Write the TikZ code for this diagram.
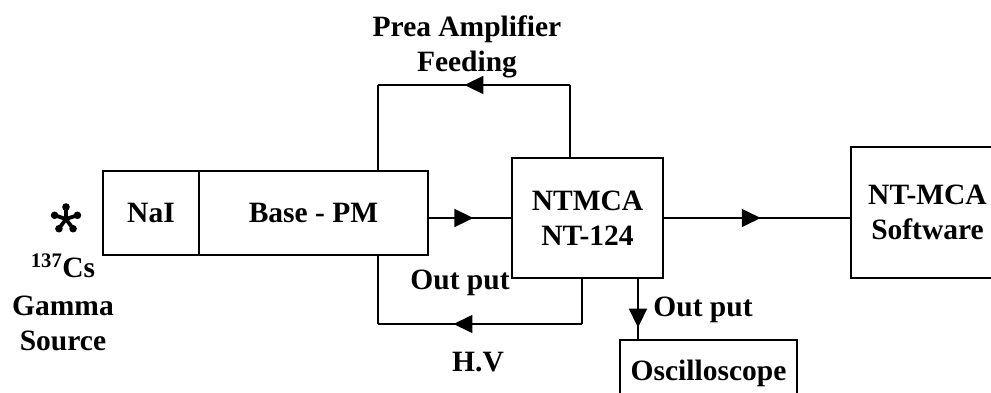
\documentclass[tikz,border=0pt]{standalone}
\usepackage{fontspec}
\setmainfont{Liberation Serif}
\usetikzlibrary{arrows.meta,decorations.markings,calc}
\begin{document}
\begin{tikzpicture}[x=1pt,y=-1pt,
  every node/.style={font=\bfseries\fontsize{29.5}{35}\selectfont},
  blk/.style={draw,line width=1.6pt,inner sep=0pt,outer sep=0pt,align=center},
  lbl/.style={inner sep=0pt,anchor=base},
  wire/.style={line width=1.6pt},
  midarrow/.style={postaction={decorate},decoration={markings,
     mark=at position #1 with {\arrow{Triangle[length=19pt,width=18pt]}}}}]
\useasboundingbox (0,0) rectangle (991,392);
\clip (0,0) rectangle (991,392);
\fill[white] (0,0) rectangle (991,392);
% boxes
\node[blk,minimum width=96,minimum height=84] (nai) at (151,213) {NaI};
\node[blk,minimum width=229,minimum height=84,anchor=west] (base) at (nai.east) {Base - PM};
\node[blk,minimum width=151,minimum height=120] (ntmca) at (587.5,218) {NTMCA\\NT-124};
\node[blk,minimum width=153,minimum height=131] (soft) at (927.5,212.5) {NT-MCA\\Software};
\node[blk,minimum width=177,minimum height=66] (osc) at (708.5,373) {Oscilloscope};
% coordinates for loops
\coordinate (fbL) at (378,85);
\coordinate (fbR) at (570,85);
\coordinate (hvL) at (378,324);
\coordinate (hvR) at (582,324);
\coordinate (outx) at (638,0);
\coordinate (sig) at (0,218);
% feedback loop (top)
\draw[wire] (fbL |- base.north) -- (fbL);
\draw[wire,midarrow=0.55] (fbR) -- (fbL);
\draw[wire] (fbR |- ntmca.north) -- (fbR);
% H.V loop (bottom)
\draw[wire] (hvL |- base.south) -- (hvL);
\draw[wire,midarrow=0.63] (hvR) -- (hvL);
\draw[wire] (hvR |- ntmca.south) -- (hvR);
% signal arrows
\draw[wire,midarrow=0.54] (base.east |- sig) -- (ntmca.west |- sig);
\draw[wire,midarrow=0.52] (ntmca.east |- sig) -- (soft.west |- sig);
\draw[wire,midarrow=0.80] (outx |- ntmca.south) -- (outx |- osc.north);
% labels
\node[lbl] (prea) at (467,36) {Prea Amplifier};
\node[lbl] (feed) at (467,71) {Feeding};
\node[lbl] (out1) at (460,289) {Out put};
\node[lbl] (hv) at (478,371) {H.V};
\node[lbl] (out2) at (703,316) {Out put};
% source
\node[lbl] (cs) at (63,277) {\textsuperscript{137}Cs};
\node[lbl] (gamma) at (63,315) {Gamma};
\node[lbl] (src) at (63,350) {Source};
% star
\coordinate (star) at (66,219);
\foreach \a in {90,18,162,234,306} {
  \draw[line width=3.8pt,line cap=round] (star) -- ($(star)+(\a:-12)$);
  \fill ($(star)+(\a:-12)$) circle (3.8);
}
\end{tikzpicture}
\end{document}
